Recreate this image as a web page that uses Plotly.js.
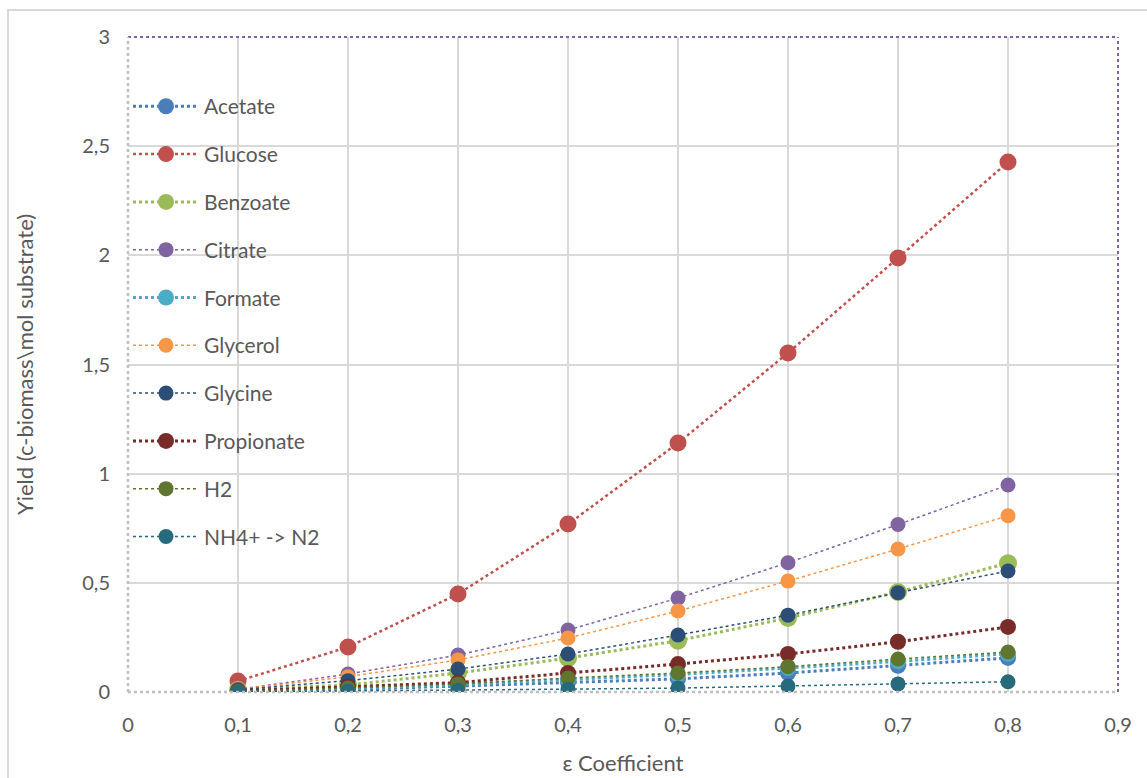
<!DOCTYPE html>
<html>
<head>
<meta charset="utf-8">
<script src="https://cdn.plot.ly/plotly-3.0.1.min.js"></script>
<style>html,body{margin:0;padding:0;background:#fff;}#chart{width:1147px;height:778px;}</style>
</head>
<body>
<div id="chart"></div>
<script>
const eps = [0.1, 0.2, 0.3, 0.4, 0.5, 0.6, 0.7, 0.8];
const seriesNames = ["Acetate", "Glucose", "Benzoate", "Citrate", "Formate", "Glycerol", "Glycine", "Propionate", "H2", "NH4+ -> N2"];
const acetate    = [0.003, 0.012, 0.027, 0.045, 0.060, 0.087, 0.120, 0.156];
const glucose    = [0.050, 0.206, 0.449, 0.769, 1.140, 1.553, 1.988, 2.427];
const benzoate   = [0.010, 0.032, 0.087, 0.155, 0.235, 0.339, 0.458, 0.590];
const citrate    = [0.012, 0.082, 0.169, 0.284, 0.430, 0.592, 0.767, 0.948];
const formate    = [0.004, 0.016, 0.035, 0.058, 0.080, 0.110, 0.140, 0.175];
const glycerol   = [0.012, 0.070, 0.147, 0.247, 0.371, 0.508, 0.655, 0.807];
const glycine    = [0.010, 0.052, 0.105, 0.174, 0.261, 0.352, 0.455, 0.554];
const propionate = [0.005, 0.024, 0.043, 0.087, 0.128, 0.174, 0.230, 0.298];
const h2         = [0.004, 0.018, 0.037, 0.064, 0.087, 0.116, 0.151, 0.183];
const nh4        = [0.001, 0.004, 0.008, 0.013, 0.018, 0.027, 0.037, 0.047];
const yTickVals  = [0, 0.5, 1, 1.5, 2, 2.5, 3];
const yTickText  = ["0", "0,5", "1", "1,5", "2", "2,5", "3"];
const xTickVals  = [0, 0.1, 0.2, 0.3, 0.4, 0.5, 0.6, 0.7, 0.8, 0.9];
const xTickText  = ["0", "0,1", "0,2", "0,3", "0,4", "0,5", "0,6", "0,7", "0,8", "0,9"];

const values = [acetate, glucose, benzoate, citrate, formate, glycerol, glycine, propionate, h2, nh4];
const colors = ["#4a7ebb", "#c0504d", "#9bbb59", "#8064a2", "#4bacc6", "#f79646", "#2c4d75", "#772c2a", "#5f7530", "#276a7c"];
const widths = [3, 2.5, 3, 1.5, 3, 1.5, 1.5, 3, 1.5, 1.5];
const sizes  = [16, 17, 18, 15, 16, 15, 15, 16, 15, 15];

const traces = seriesNames.map((n, i) => ({
  x: eps, y: values[i], name: n, type: "scatter", mode: "lines+markers",
  legendgroup: "g" + i,
  line: {color: colors[i], width: widths[i], dash: "dot"},
  marker: {color: colors[i], size: sizes[i]}
}));

const font = "Lato, 'Open Sans', sans-serif";
const layout = {
  width: 1147, height: 778,
  margin: {l: 128, r: 29, t: 37, b: 86},
  paper_bgcolor: "#ffffff", plot_bgcolor: "#ffffff",
  font: {family: font, color: "#595959", size: 20},
  showlegend: true,
  legend: {x: 0, y: 0.925, xanchor: "left", yanchor: "top", bgcolor: "rgba(0,0,0,0)",
           font: {size: 21, color: "#595959", family: font}, tracegroupgap: 17.5, itemwidth: 66},
  xaxis: {range: [0, 0.9], tickvals: xTickVals, ticktext: xTickText, showgrid: true,
          gridcolor: "#d9d9d9", gridwidth: 2, zeroline: false, showline: false, ticks: "",
          tickfont: {size: 20, color: "#595959"}, ticklabelstandoff: 19,
          title: {text: "ε Coefficient", font: {size: 22, color: "#595959"}, standoff: 20}},
  yaxis: {range: [0, 3], tickvals: yTickVals, ticktext: yTickText, showgrid: true,
          gridcolor: "#d9d9d9", gridwidth: 2, zeroline: false, showline: false, ticks: "",
          tickfont: {size: 20, color: "#595959"}, ticklabelstandoff: 17,
          title: {text: "Yield (c-biomass\\mol substrate)", font: {size: 22, color: "#595959"}, standoff: 42}},
  shapes: [
    {type: "rect", xref: "paper", yref: "paper", x0: -0.1212, x1: 1.1, y0: -0.2, y1: 1.0412,
     line: {color: "#d9d9d9", width: 2}, fillcolor: "rgba(0,0,0,0)", layer: "below"},
    {type: "line", xref: "paper", yref: "paper", x0: 0, x1: 1, y0: 1, y1: 1,
     line: {color: "#8064a2", width: 2, dash: "dot"}},
    {type: "line", xref: "paper", yref: "paper", x0: 1, x1: 1, y0: 0, y1: 1,
     line: {color: "#8064a2", width: 2, dash: "dot"}},
    {type: "line", xref: "paper", yref: "paper", x0: 0, x1: 0, y0: 0, y1: 1,
     line: {color: "#bfbfbf", width: 2.5, dash: "dot"}},
    {type: "line", xref: "paper", yref: "paper", x0: 0, x1: 1, y0: 0, y1: 0,
     line: {color: "#bfbfbf", width: 2.5, dash: "dot"}}
  ]
};
Plotly.newPlot("chart", traces, layout, {displayModeBar: false});
</script>
</body>
</html>
